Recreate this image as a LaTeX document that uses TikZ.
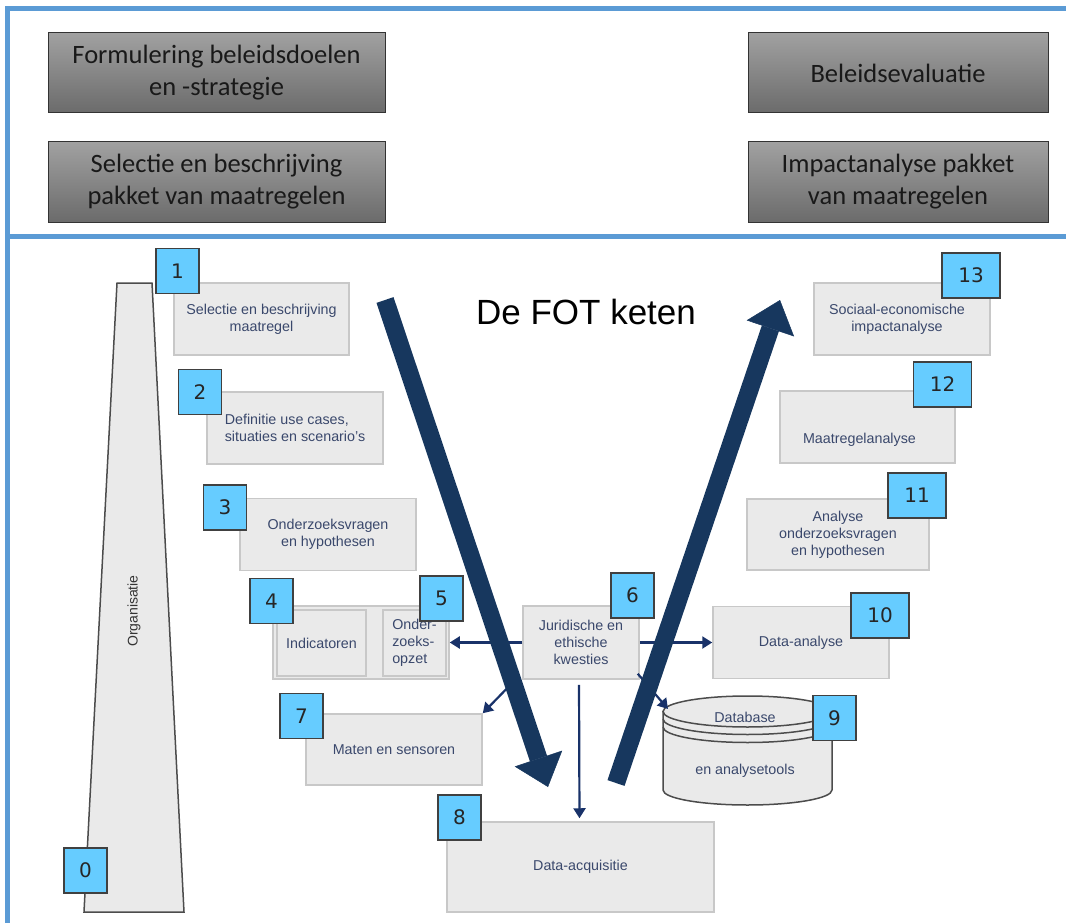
\documentclass[tikz,border=0pt]{standalone}
\usepackage{fontspec}
\setmainfont{Liberation Sans}
\newfontfamily\boxfont{Carlito}
\newfontfamily\numfont{DejaVu Sans}
\usepackage{tikz}
\usetikzlibrary{arrows.meta}

\definecolor{framec}{RGB}{91,155,213}
\definecolor{stepfill}{RGB}{234,234,234}
\definecolor{stepline}{RGB}{200,200,200}
\definecolor{steptext}{RGB}{58,72,108}
\definecolor{badgefill}{RGB}{102,204,255}
\definecolor{navy}{RGB}{23,55,94}
\definecolor{linknavy}{RGB}{25,50,105}

\begin{document}
\begin{tikzpicture}[x=1pt, y=-1pt, line width=1pt,
    topbox/.style={draw=black!80, top color=black!37, bottom color=black!58,
      minimum height=80pt, inner sep=0pt, align=center, text=black!90,
      font=\boxfont\fontsize{26.5}{32}\selectfont},
    stepbox/.style={draw=stepline, fill=stepfill, line width=1.5pt,
      minimum width=176pt, minimum height=72pt, inner sep=0pt, align=center,
      text=steptext, font=\fontsize{14.3}{17}\selectfont},
    steplabel/.style={text=steptext, align=center, inner sep=0pt,
      font=\fontsize{14.3}{17}\selectfont},
    badge/.style={draw=black!75, fill=badgefill, line width=1.5pt,
      minimum width=43pt, minimum height=45pt, inner sep=0pt, text=black!85,
      font=\numfont\fontsize{20}{24}\selectfont},
    wide/.style={minimum width=58pt},
    link/.style={draw=linknavy, line width=2.2pt, -{Triangle[width=12pt,length=10pt]}},
    bigarrow/.style={draw=navy, line width=18pt,
      -{Triangle[width=50pt,length=30pt,line width=0.5pt]}}]
    \useasboundingbox (0,0) rectangle (1066,923);

    % draw frame
    \draw[color=framec, line width=5pt] (5,9) -- (1066,9);
    \draw[color=framec, line width=5pt] (7.5,7) -- (7.5,923);
    \draw[color=framec, line width=5pt] (7.5,236.5) -- (1066,236.5);

    % draw policy boxes
    \node[topbox, minimum width=337pt] (goals) at (216.5,73) {Formulering beleidsdoelen\\en -strategie};
    \node[topbox, minimum width=337pt] (package) at (216.5,182) {Selectie en beschrijving\\pakket van maatregelen};
    \node[topbox, minimum width=300pt] (evaluation) at (898,73) {Beleidsevaluatie};
    \node[topbox, minimum width=300pt] (impact) at (898,182) {Impactanalyse pakket\\van maatregelen};

    % draw organisation bar
    \filldraw[fill=stepfill, draw=black!70, line width=1.5pt]
      (117,283) -- (152,283) -- (184,912) -- (84,912) -- cycle;
    \node[rotate=90, text=black!80, font=\fontsize{14}{16}\selectfont] (org) at (134,611) {Organisatie};

    % draw left steps
    \node[stepbox, minimum width=175pt] (b1) at (261.5,319) {Selectie en beschrijving\\maatregel};
    \node[stepbox, align=left] (b2) at (295,428) {Definitie use cases,\\situaties en scenario's};
    \node[stepbox] (b3) at (328,534.5) {Onderzoeksvragen\\en hypothesen};
    \node[stepbox, minimum height=73pt] (b45) at (361,642.5) {};
    \node[stepbox, minimum width=89pt, minimum height=66pt] (b4) at (321.5,643) {Indicatoren};
    \node[stepbox, minimum width=63pt, minimum height=66pt, align=left] (b5) at (414.5,643) {Onder-\\zoeks-\\opzet};
    \node[stepbox, minimum width=116pt, minimum height=73pt] (b6) at (581,642.5) {Juridische en\\ethische\\kwesties};
    \node[stepbox, minimum height=71pt] (b7) at (394,749.5) {Maten en sensoren};
    \node[stepbox, minimum width=267pt, minimum height=90pt] (b8) at (580.5,867) {Data-acquisitie};

    % draw right steps
    \node[stepbox] (b10) at (801,642.5) {Data-analyse};
    \node[stepbox, minimum width=182pt, minimum height=71pt] (b11) at (838,534.5) {Analyse\\onderzoeksvragen\\en hypothesen};
    \node[stepbox, minimum width=175pt] (b12) at (867.5,427) {};
    \node[steplabel] (b12text) at ([xshift=-8pt, yshift=-13pt]b12.center) {Maatregelanalyse};
    \node[stepbox] (b13) at (902,319) {};
    \node[steplabel] (b13text) at ([xshift=-5pt]b13.center) {Sociaal-economische\\impactanalyse};

    % draw database
    \filldraw[fill=stepfill, draw=black!70, line width=1.5pt]
      (663,711.5) -- (663,790) arc[start angle=180, end angle=360, x radius=84.5pt, y radius=15pt]
      -- (832,711.5) -- cycle;
    \filldraw[fill=stepfill, draw=black!70, line width=1.5pt] (747.5,711.5) ellipse [x radius=84.5pt, y radius=15.5pt];
    \draw[color=black!70, line width=1.5pt] (663,719) arc[start angle=180, end angle=360, x radius=84.5pt, y radius=15.5pt];
    \draw[color=black!70, line width=1.5pt] (663,727) arc[start angle=180, end angle=360, x radius=84.5pt, y radius=15.5pt];
    \node[steplabel] (dbtop) at (745,717) {Database};
    \node[steplabel] (dbbottom) at (745,771) {en analysetools};
    \coordinate (dbin) at (668,709);

    % draw numbers
    \node[badge] (n0) at (85.5,870.5) {0};
    \node[badge] (n1) at (177.5,271) {1};
    \node[badge] (n2) at (200,392) {2};
    \node[badge] (n3) at (225,507.5) {3};
    \node[badge] (n4) at (271.5,601) {4};
    \node[badge] (n5) at (441.5,598.5) {5};
    \node[badge] (n6) at (632.5,595.5) {6};
    \node[badge] (n7) at (301.5,716) {7};
    \node[badge] (n8) at (459.5,817.5) {8};
    \node[badge] (n9) at (834.5,718) {9};
    \node[badge, wide] (n10) at (880,615.5) {10};
    \node[badge, wide] (n11) at (917,495.5) {11};
    \node[badge, wide] (n12) at (942.5,384.5) {12};
    \node[badge, wide] (n13) at (971,275.5) {13};

    % draw links from legal issues
    \draw[link] (b6.west) -- (b45.east);
    \draw[link] (b6.east) -- (b10.west);
    \draw[link] ([shift={(-3,-4)}]b6.south west) -- (b7.north east);
    \draw[link] ([shift={(-2,-6)}]b6.south east) -- (dbin);
    \draw[link, shorten <=5pt, shorten >=3pt] ([xshift=-2pt]b6.south) -- ([xshift=-1pt]b8.north);

    % draw chain arrows
    \coordinate (downtop) at (385,300);
    \coordinate (downtip) at (548,787);
    \coordinate (uptail) at (616,783);
    \coordinate (uptip) at (780,300);
    \draw[bigarrow] (downtop) -- (downtip);
    \draw[bigarrow] (uptail) -- (uptip);

    \node[font=\fontsize{35}{40}\selectfont] (title) at (586,312) {De FOT keten};
\end{tikzpicture}
\end{document}
